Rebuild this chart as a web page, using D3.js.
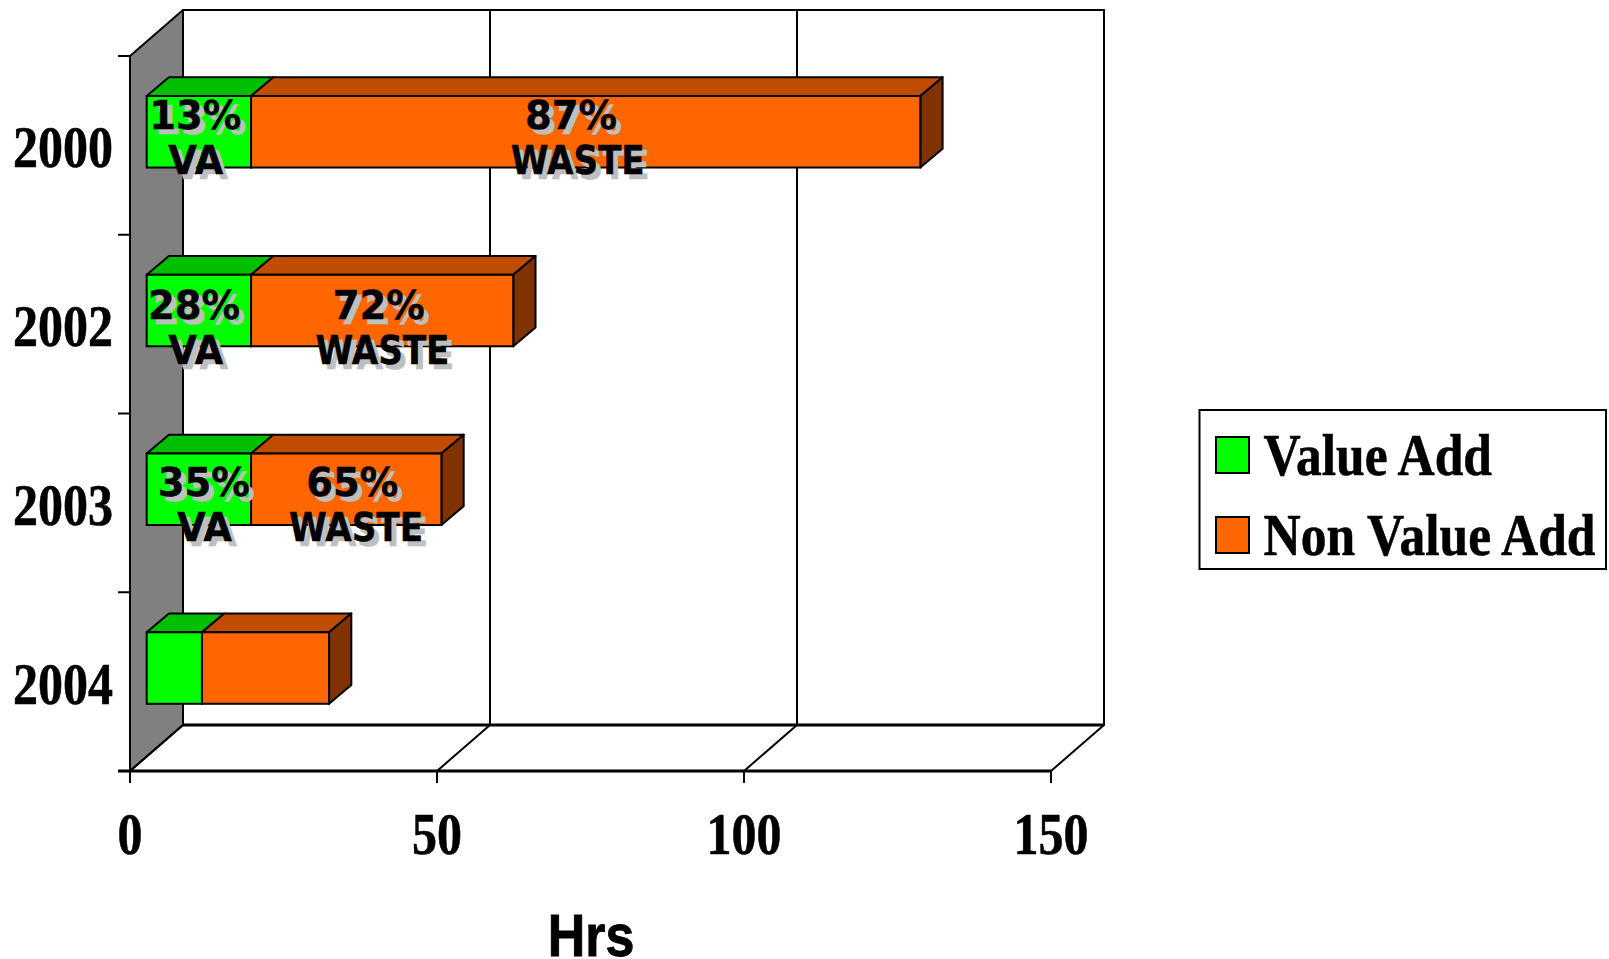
<!DOCTYPE html>
<html><head><meta charset="utf-8">
<script src="https://cdn.jsdelivr.net/npm/d3@7"></script>
<style>html,body{margin:0;padding:0;background:#fff;overflow:hidden}svg{display:block}</style>
</head><body><svg id="c" width="1609" height="959"></svg>
<script>
const years = ["2000","2002","2003","2004"];
const valueAdd = [17, 17, 17, 9];
const nonValueAdd = [109, 42.7, 31, 20.7];
const xTicks = [0, 50, 100, 150];
const seriesNames = ["Value Add", "Non Value Add"];
const vaLabels = [["13%","VA"],["28%","VA"],["35%","VA"],null];
const wasteLabels = [["87%","WASTE"],["72%","WASTE"],["65%","WASTE"],null];
const axisTitle = "Hrs";

const GREEN="#00ff00",GREEN_TOP="#00bf00",ORANGE="#ff6600",ORANGE_TOP="#bf4c00",ORANGE_SIDE="#803300";
const svg=d3.select("#c");
const DX=53,DY=-46;
const x=d3.scaleLinear().domain([0,150]).range([130,1051]);
const y=d3.scaleBand().domain(years).range([56,771]);
const barH=71.5, gap=[16.7,-13.6], depth=[DX*0.42,DY*0.41];
const line=(x1,y1,x2,y2,w=2)=>svg.append("line").attr("x1",x1).attr("y1",y1).attr("x2",x2).attr("y2",y2).attr("stroke","#000").attr("stroke-width",w);
const poly=(pts,fill)=>svg.append("polygon").attr("points",pts.map(p=>p.join(",")).join(" ")).attr("fill",fill).attr("stroke","#000").attr("stroke-width",2).attr("stroke-linejoin","round");

const [x0,x1]=x.range(), yTop=y.range()[0], yBot=y.range()[1];
// wall and frame
poly([[x0,yTop],[x0+DX,yTop+DY],[x0+DX,yBot+DY],[x0,yBot]],"#808080");
svg.append("rect").attr("x",x0+DX).attr("y",yTop+DY).attr("width",x1-x0).attr("height",yBot-yTop).attr("fill","#fff").attr("stroke","#000").attr("stroke-width",2);
xTicks.forEach(t=>{
  line(x(t)+DX,yTop+DY,x(t)+DX,yBot+DY);
  line(x(t),yBot,x(t)+DX,yBot+DY);
  line(x(t),yBot,x(t),yBot+12);
});
line(x0+DX,yBot+DY,x1+DX,yBot+DY,3);
line(x0-12,yBot,x1,yBot,3);
years.forEach(v=>line(x0-12,y(v),x0,y(v)));

// bars
years.forEach((yr,i)=>{
  const top=y(yr)+y.bandwidth()/2-barH/2+gap[1], bot=top+barH;
  const segs=[[0,valueAdd[i],GREEN,GREEN_TOP],[valueAdd[i],valueAdd[i]+nonValueAdd[i],ORANGE,ORANGE_TOP]];
  segs.forEach(([a,b,f,t])=>{
    const xa=x(a)+gap[0], xb=x(b)+gap[0];
    poly([[xa,top],[xa+depth[0],top+depth[1]],[xb+depth[0],top+depth[1]],[xb,top]],t);
  });
  const xe=x(valueAdd[i]+nonValueAdd[i])+gap[0];
  poly([[xe,top],[xe+depth[0],top+depth[1]],[xe+depth[0],bot+depth[1]],[xe,bot]],ORANGE_SIDE);
  segs.forEach(([a,b,f])=>{
    svg.append("rect").attr("x",x(a)+gap[0]).attr("y",top).attr("width",x(b)-x(a)).attr("height",barH).attr("fill",f).attr("stroke","#000").attr("stroke-width",2);
  });
});

// stretched serif text helper
const serif=(s,px,py,size,sy,anchor)=>svg.append("text").text(s).attr("transform",`translate(${px},${py}) scale(1,${sy})`)
  .attr("font-family","'Liberation Serif'").attr("font-weight","bold").attr("font-size",size).attr("text-anchor",anchor).attr("fill","#000")
  .attr("stroke","#000").attr("stroke-width",0.5);

years.forEach(v=>serif(v,113,y(v)+y.bandwidth()/2+22,50,1.2,"end"));
xTicks.forEach(t=>serif(String(t),x(t),854,50,1.2,"middle"));
svg.append("text").text(axisTitle).attr("transform","translate(591,956) scale(1,1.15)").attr("font-family","'Liberation Sans'").attr("font-weight","bold").attr("font-size",52).attr("text-anchor","middle").attr("stroke","#000").attr("stroke-width",0.8);

// data labels (hand placed on the original slide; anchors given in axis hours)
const vaPctAnchor=[7.9,7.7,9.3], vaWordAnchor=[8,8,9.4];
const wastePctAnchor=[69.1,37.8,33.5], wasteWordAnchor=[70.2,38.4,34.1];
const baseDrop=[[33,78],[44,89],[42,87]];
const lab=(s,px,py,size,len)=>{
  [[5,5,"#bfbfbf"],[0,0,"#000"]].forEach(([ox,oy,c])=>{
    const t=svg.append("text").text(s).attr("x",px+ox).attr("y",py+oy)
     .attr("font-family","'DejaVu Sans'").attr("font-weight","bold").attr("font-size",size).attr("text-anchor","middle").attr("fill",c)
     .attr("stroke",c).attr("stroke-width",0.4);
    if(len) t.attr("textLength",len).attr("lengthAdjust","spacingAndGlyphs");
  });
};
[[vaLabels,vaPctAnchor,vaWordAnchor,55],[wasteLabels,wastePctAnchor,wasteWordAnchor,134]].forEach(([arr,pa,wa,len])=>arr.forEach((l,i)=>{
  if(!l) return;
  const top=y(years[i])+y.bandwidth()/2-barH/2+gap[1];
  lab(l[0],x(pa[i])+gap[0],top+baseDrop[i][0],38.5);
  lab(l[1],x(wa[i])+gap[0],top+baseDrop[i][1],38.5,len);
}));

// legend
svg.append("rect").attr("x",1199.5).attr("y",410).attr("width",406.5).attr("height",159).attr("fill","#fff").attr("stroke","#000").attr("stroke-width",2);
const legendY=d3.scalePoint().domain(seriesNames).range([455,535]);
const legendColor=d3.scaleOrdinal().domain(seriesNames).range([GREEN,ORANGE]);
seriesNames.forEach(n=>{
  svg.append("rect").attr("x",1216).attr("y",legendY(n)-18).attr("width",33).attr("height",36).attr("fill",legendColor(n)).attr("stroke","#000").attr("stroke-width",2);
  serif(n,1263.5,legendY(n)+19.5,51.5,1.13,"start");
});
</script></body></html>
